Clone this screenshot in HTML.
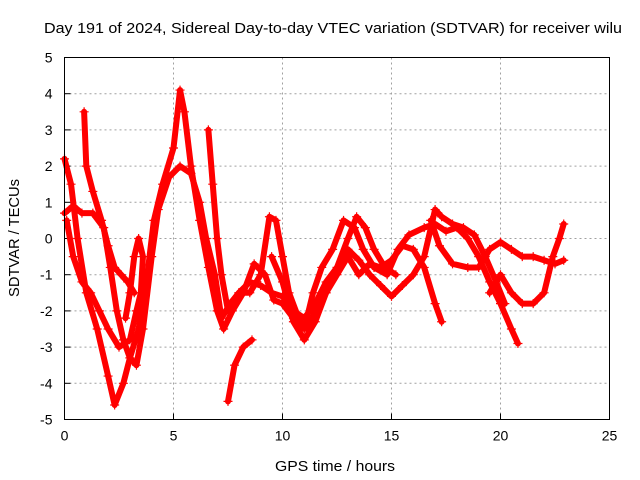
<!DOCTYPE html>
<html><head><meta charset="utf-8"><style>
body{margin:0;background:#fff}
svg{display:block;font-family:"Liberation Sans",sans-serif}
</style></head><body>
<svg id="chart" width="640" height="480" viewBox="0 0 640 480">
<rect width="640" height="480" fill="#fff"/>
<text x="333" y="33" font-size="15" text-anchor="middle" textLength="578" lengthAdjust="spacingAndGlyphs">Day 191 of 2024, Sidereal Day-to-day VTEC variation (SDTVAR) for receiver wilu</text>
<g id="grid"></g>
<g id="axes"></g>
<g id="series"></g>
<rect x="64.5" y="57.5" width="545" height="362" fill="none" stroke="#000" stroke-width="1"/>
<text x="335" y="471" font-size="15" text-anchor="middle" textLength="120" lengthAdjust="spacingAndGlyphs">GPS time / hours</text>
<text transform="translate(19,238) rotate(-90)" font-size="15" text-anchor="middle" textLength="118" lengthAdjust="spacingAndGlyphs">SDTVAR / TECUs</text>
</svg>
<script>
const xTicks=[0,5,10,15,20,25];
const yTicks=[-5,-4,-3,-2,-1,0,1,2,3,4,5];
const track1=[[0,2.2],[0.3,1.5],[0.6,0],[1,-1.5],[1.5,-2.5],[2,-3.8],[2.3,-4.6],[2.7,-4],[3,-3.3],[3.4,-2.5],[3.8,-1],[4.1,0.5],[4.5,1.5],[5,2.5],[5.3,4.1],[5.5,3.5],[5.8,2],[6.2,0.5],[6.6,-0.8],[7,-2],[7.3,-2.5],[7.7,-2],[8.2,-1.5],[8.7,-0.7],[9.2,-1],[9.6,-1.7],[10,-1.8],[10.5,-2.2],[11,-2.5],[11.4,-1.5],[11.8,-0.8],[12.3,-0.3],[12.8,0.5],[13.3,0.3],[13.7,-0.3],[14.2,-0.8],[14.8,-1],[15.3,-0.3],[15.8,0.1],[16.5,0.3],[17,0.4],[17.5,0.2],[18,0.3],[18.5,0],[19,-0.5],[19.5,-1.2],[20,-1.8],[20.5,-2.5],[20.8,-2.9]];
const track2=[[0,0.7],[0.4,0.9],[0.8,0.7],[1.3,0.7],[1.8,0.3],[2.1,-0.8],[2.4,-2],[2.7,-2.8],[3,-3.3],[3.3,-3.5],[3.6,-2.5],[4,-0.5],[4.3,0.8],[4.8,1.7],[5.3,2],[5.8,1.8],[6.2,1],[6.5,0],[6.9,-1],[7.2,-2.2],[7.6,-1.8],[8,-1.5],[8.5,-1.2],[9,-1.3],[9.5,-1.5],[10,-1.6],[10.5,-2],[11,-2.2],[11.5,-1.8],[12,-1.2],[12.5,-0.8],[13,-0.3],[13.5,-0.6],[14,-1],[14.5,-1.3],[15,-1.6],[15.5,-1.3],[16,-1],[16.5,-0.5],[17,0.8],[17.3,0.6],[17.8,0.4],[18.3,0.3],[18.8,0.1],[19.3,-0.5],[19.8,-1.2],[20.2,-1.8]];
const track3=[[0.1,0.5],[0.4,-0.5],[0.8,-1.2],[1.2,-1.5],[1.6,-2],[2,-2.5],[2.5,-3],[3,-2.8],[3.3,-2],[3.5,-1.5],[3.6,-0.5],[3.4,0],[3.2,-0.5],[3,-1.5],[2.8,-2.2]];
const track4=[[6.6,3],[6.8,1.5],[7,0],[7.2,-1],[7.5,-2],[8,-1.5],[8.5,-1.5],[9,-1],[9.4,0.6],[9.7,0.5],[10,-0.5],[10.3,-1.5],[10.8,-2.3],[11.2,-2.5],[11.5,-2],[12,-1.5],[12.5,-1],[13,-0.5],[13.5,-1],[14,-0.7],[14.5,-0.8],[15,-0.6],[15.5,-0.2],[16,-0.3],[16.5,-0.8],[17,-1.8],[17.3,-2.3]];
const track5=[[0.9,3.5],[1,2],[1.3,1.3],[1.7,0.5],[2,-0.2],[2.3,-0.8],[2.6,-1],[2.9,-1.2],[3.2,-1.5]];
const track6=[[7.5,-4.5],[7.8,-3.5],[8.2,-3],[8.6,-2.8]];
const track7=[[16.8,0.5],[17.2,-0.2],[17.8,-0.7],[18.5,-0.8],[19,-0.8],[19.5,-0.3],[20,-0.1],[20.5,-0.3],[21,-0.5],[21.5,-0.5],[22,-0.6],[22.5,-0.7],[22.9,-0.6]];
const track8=[[19.5,-1.5],[20,-1],[20.5,-1.5],[21,-1.8],[21.5,-1.8],[22,-1.5],[22.4,-0.5],[22.7,0],[22.9,0.4]];
const track9=[[9.5,-0.5],[10,-1.2],[10.5,-2.3],[11,-2.8],[11.5,-2.3],[12,-1.5],[12.5,-0.8],[13,0],[13.4,0.6],[13.8,0.3],[14.2,-0.3],[14.7,-0.8],[15.2,-1]];
const tracks=[track1,track2,track3,track4,track5,track6,track7,track8,track9];
const NS='http://www.w3.org/2000/svg';
const X0=64.5,X1=609.5,Y0=419.5,Y1=57.5;
const sx=v=>X0+(v-0)/(25-0)*(X1-X0);
const sy=v=>Y0-(v+5)/10*(Y0-Y1);
function mk(tag,attrs,parent){const e=document.createElementNS(NS,tag);for(const k in attrs)e.setAttribute(k,attrs[k]);parent.appendChild(e);return e;}
const grid=document.getElementById('grid'),axes=document.getElementById('axes'),ser=document.getElementById('series');
xTicks.forEach(t=>{
  const x=sx(t);
  if(t>0&&t<25){const g=mk('line',{x1:x,x2:x,y1:Y1,y2:Y0,stroke:'#a0a0a0','stroke-dasharray':'2,3'},grid);
  
  }
  const tk=mk('line',{x1:x,x2:x,y1:Y0,y2:Y0-6,stroke:'#000'},axes);
  
  
  const lb=mk('text',{x:x,y:Y0+21,'font-size':14,'text-anchor':'middle'},axes);lb.textContent=t;
  
  
});
yTicks.forEach(t=>{
  const y=sy(t);
  if(t>-5&&t<5){const g=mk('line',{x1:X0,x2:X1,y1:y,y2:y,stroke:'#a0a0a0','stroke-dasharray':'2,3'},grid);
  
  }
  const tk=mk('line',{x1:X0,x2:X0+6,y1:y,y2:y,stroke:'#000'},axes);
  
  
  const lb=mk('text',{x:X0-12,y:y+5,'font-size':14,'text-anchor':'end'},axes);lb.textContent=t;
  
  
});
tracks.forEach((tr,i)=>{
  const pl=mk('polyline',{points:tr.map(p=>sx(p[0])+','+sy(p[1])).join(' '),fill:'none',stroke:'#f00','stroke-width':6,'stroke-linejoin':'round','stroke-linecap':'round'},ser);
  
  
  tr.forEach(p=>{
    const x=sx(p[0]),y=sy(p[1]);
    const m=mk('path',{d:`M${x-4.5},${y}H${x+4.5}M${x},${y-4.5}V${y+4.5}`,stroke:'#f00','stroke-width':1.2},ser);
    
    
  });
});
</script>
</body></html>
